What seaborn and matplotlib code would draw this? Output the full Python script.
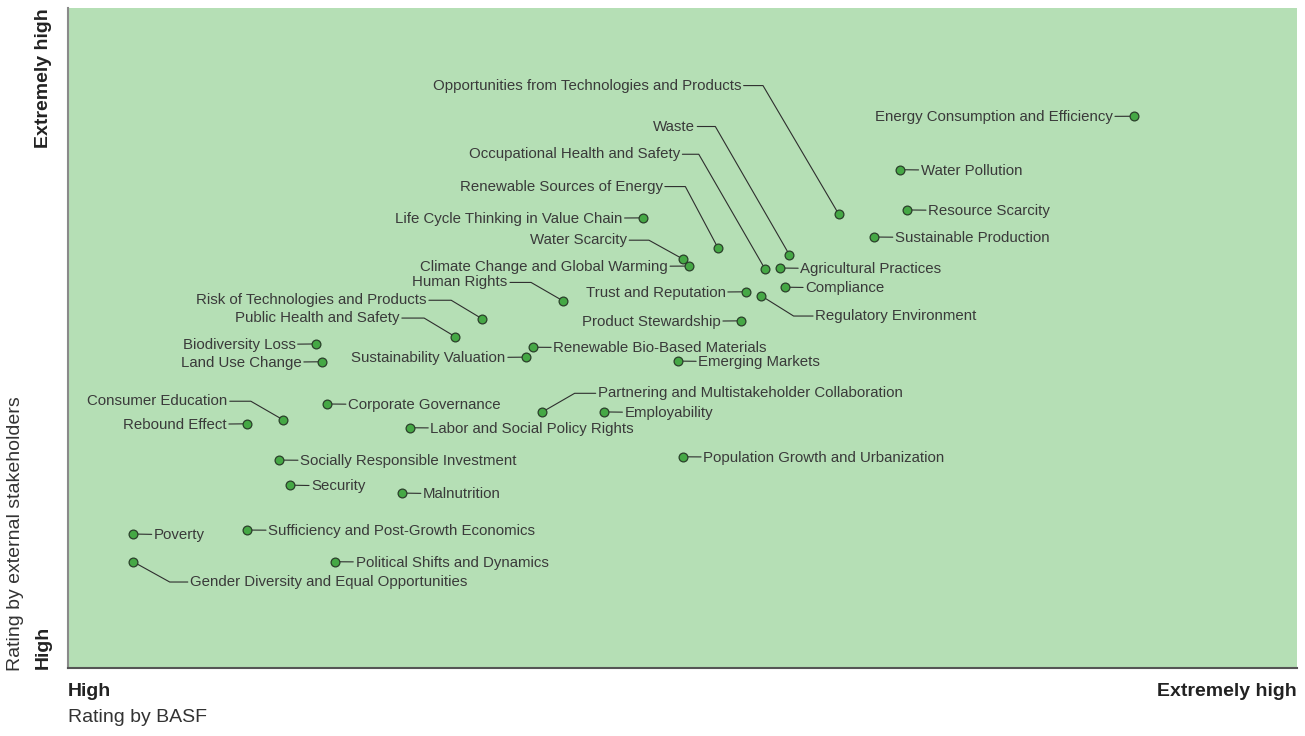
import pandas as pd
import seaborn as sns
import matplotlib.pyplot as plt

# Topics of the materiality matrix and their ratings (0 = high, 100 = extremely high)
topics = [
    "Opportunities from Technologies and Products", "Energy Consumption and Efficiency",
    "Waste", "Occupational Health and Safety", "Renewable Sources of Energy",
    "Water Pollution", "Resource Scarcity", "Sustainable Production",
    "Life Cycle Thinking in Value Chain", "Water Scarcity", "Climate Change and Global Warming",
    "Agricultural Practices", "Compliance", "Trust and Reputation", "Regulatory Environment",
    "Product Stewardship", "Human Rights", "Risk of Technologies and Products",
    "Public Health and Safety", "Biodiversity Loss", "Land Use Change",
    "Sustainability Valuation", "Renewable Bio-Based Materials", "Emerging Markets",
    "Consumer Education", "Rebound Effect", "Corporate Governance",
    "Partnering and Multistakeholder Collaboration", "Employability",
    "Labor and Social Policy Rights", "Population Growth and Urbanization",
    "Socially Responsible Investment", "Security", "Malnutrition", "Poverty",
    "Sufficiency and Post-Growth Economics", "Political Shifts and Dynamics",
    "Gender Diversity and Equal Opportunities",
]
rating_basf = [
    62.7, 86.7, 58.7, 56.7, 52.9, 67.7, 68.3, 65.6, 46.8, 50.0, 50.5, 57.9, 58.3, 55.2,
    56.4, 54.8, 40.3, 33.7, 31.5, 20.2, 20.7, 37.3, 37.8, 49.6, 17.5, 14.6, 21.1, 38.6,
    43.6, 27.8, 50.0, 17.2, 18.1, 27.2, 5.3, 14.6, 21.7, 5.3,
]
rating_stakeholders = [
    68.8, 83.6, 62.6, 60.5, 63.6, 75.5, 69.4, 65.3, 68.2, 62.0, 60.9, 60.6, 57.7, 57.0,
    56.4, 52.6, 55.6, 52.9, 50.2, 49.1, 46.4, 47.1, 48.6, 46.5, 37.6, 37.0, 40.0, 38.8,
    38.8, 36.4, 32.0, 31.5, 27.7, 26.5, 20.3, 20.9, 16.1, 16.1,
]

# labels placed on the left of their marker (others go on the right)
left_labels = {
    "Opportunities from Technologies and Products", "Energy Consumption and Efficiency",
    "Waste", "Occupational Health and Safety", "Renewable Sources of Energy",
    "Life Cycle Thinking in Value Chain", "Water Scarcity", "Climate Change and Global Warming",
    "Trust and Reputation", "Product Stewardship", "Human Rights",
    "Risk of Technologies and Products", "Public Health and Safety", "Biodiversity Loss",
    "Land Use Change", "Sustainability Valuation", "Consumer Education", "Rebound Effect",
}
# labels with a bent leader: (text offset in points, angle of the slanted part)
bent_labels = {
    "Opportunities from Technologies and Products": ((-70, 93), -59.5),
    "Waste": ((-68, 93), -60),
    "Occupational Health and Safety": ((-61, 83), -60),
    "Renewable Sources of Energy": ((-40, 45), -62),
    "Water Scarcity": ((-40, 14), -29),
    "Human Rights": ((-40, 14), -30),
    "Risk of Technologies and Products": ((-40, 14), -31),
    "Public Health and Safety": ((-40, 14), -31),
    "Consumer Education": ((-40, 14), -30),
    "Regulatory Environment": ((39, -14), -32),
    "Partnering and Multistakeholder Collaboration": ((40, 14), 30),
    "Gender Diversity and Equal Opportunities": ((41, -14), -29),
}

df = pd.DataFrame({"topic": topics, "basf": rating_basf, "stakeholders": rating_stakeholders})

sns.set_theme(style="white")
plt.rcParams["font.family"] = ["Liberation Sans", "DejaVu Sans"]

fig = plt.figure(figsize=(13.05, 7.36), dpi=100)
ax = fig.add_axes([68 / 1305, 68 / 736, 1229 / 1305, 660 / 736])
ax.set_facecolor("#b5dfb5")

sns.scatterplot(data=df, x="basf", y="stakeholders", ax=ax, s=40, color="#45a845",
                edgecolor="#2a3f2a", linewidth=0.9, zorder=5)

text_color = "#3a3a3a"
for _, row in df.iterrows():
    name = row["topic"]
    if name in bent_labels:
        offset, ang = bent_labels[name]
        style = f"angle,angleA=0,angleB={ang},rad=0"
    else:
        offset = (-15, 0) if name in left_labels else (15, 0)
        style = "arc3"
    ha = "right" if offset[0] < 0 else "left"
    ax.annotate(name, xy=(row["basf"], row["stakeholders"]), xytext=(offset[0], offset[1] - 0.6),
                textcoords="offset points", ha=ha, va="center", fontsize=10.85,
                color=text_color,
                bbox=dict(boxstyle="square,pad=0.15", fc="none", ec="none"),
                arrowprops=dict(arrowstyle="-", color="#2e2e2e", lw=0.8,
                                connectionstyle=style, shrinkA=0, shrinkB=0),
                zorder=4)

ax.set_xlim(0, 100)
ax.set_ylim(0, 100)
ax.set_xticks([])
ax.set_yticks([])
ax.set_xlabel("")
ax.set_ylabel("")
for side in ["top", "right"]:
    ax.spines[side].set_visible(False)
ax.spines["left"].set_color("#8a8a8a")
ax.spines["left"].set_linewidth(1.5)
ax.spines["bottom"].set_color("#555555")
ax.spines["bottom"].set_linewidth(1.5)

# axis annotations
fig.text(68 / 1305, 1 - 692 / 736, "High", fontsize=14, fontweight="bold",
         color="#222222", ha="left", va="center")
fig.text(1297 / 1305, 1 - 692 / 736, "Extremely high", fontsize=14, fontweight="bold",
         color="#222222", ha="right", va="center")
fig.text(68 / 1305, 1 - 718 / 736, "Rating by BASF", fontsize=14,
         color="#333333", ha="left", va="center")
fig.text(43 / 1305, 1 - 8 / 736, "Extremely high", fontsize=14, fontweight="bold",
         color="#222222", ha="center", va="top", rotation=90)
fig.text(43 / 1305, 1 - 669 / 736, "High", fontsize=14, fontweight="bold",
         color="#222222", ha="center", va="bottom", rotation=90)
fig.text(16 / 1305, 1 - 671 / 736, "Rating by external stakeholders", fontsize=14,
         color="#333333", ha="center", va="bottom", rotation=90)

fig.savefig("out.png", dpi=100, facecolor="white")
